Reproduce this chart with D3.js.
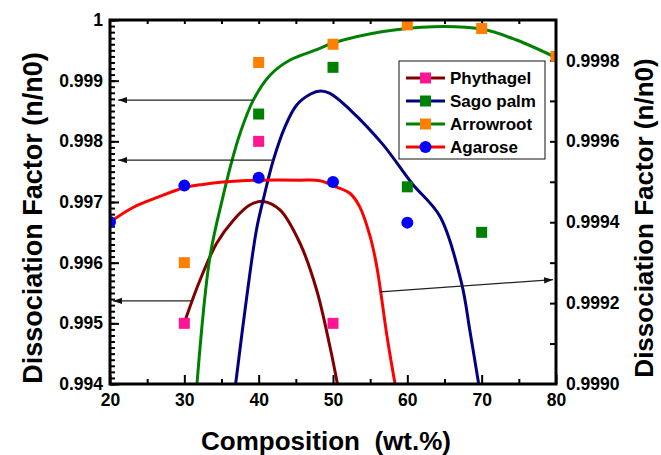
<!DOCTYPE html>
<html>
<head>
<meta charset="utf-8">
<script src="https://cdn.jsdelivr.net/npm/d3@7"></script>
<style>
  html, body { margin: 0; padding: 0; background: #fff; }
  text { font-family: "Liberation Sans", Arial, sans-serif; font-weight: bold; white-space: pre; }
</style>
</head>
<body>
<svg id="chart" width="661" height="455"></svg>
<script>
// ---------- data (left-axis units) ----------
const seriesNames = ["Phythagel", "Sago palm", "Arrowroot", "Agarose"];

// measured points (markers)
const phythagelX = [30, 40, 50];
const phythagelY = [0.995, 0.998, 0.995];
const sagoX = [40, 50, 60, 70];
const sagoY = [0.99845, 0.99922, 0.99725, 0.99650];
const arrowrootX = [30, 40, 50, 60, 70, 80];
const arrowrootY = [0.996, 0.9993, 0.9996, 0.99992, 0.99986, 0.9994];
const agaroseX = [20, 30, 40, 50, 60];
const agaroseY = [0.99667, 0.99727, 0.9974, 0.99733, 0.99666];

// fitted curves
const phythagelCurveX = [30.2, 32.1, 34.35, 36.6, 38.8, 40.6, 42.87, 45.56, 47.8, 49.6, 50.6];
const phythagelCurveY = [0.99508, 0.99571, 0.99632, 0.9967, 0.99695, 0.99701, 0.99687, 0.99632, 0.99555, 0.99461, 0.994];
const sagoCurveX = [36.9, 38.4, 39.7, 40.6, 41.97, 43.54, 45.12, 47.0, 48.3, 49.6, 52.3, 56.7, 60.6, 64.4, 67.3, 68.4, 69.6];
const sagoCurveY = [0.994, 0.99544, 0.99654, 0.99703, 0.99769, 0.99824, 0.9986, 0.99878, 0.99883, 0.99879, 0.99852, 0.99795, 0.99731, 0.99676, 0.99566, 0.99489, 0.994];
const arrowrootCurveX = [31.7, 33.45, 35.2, 36.14, 37.49, 39.28, 41.53, 44.22, 47.8, 50, 56.75, 63.5, 70, 74.7, 80];
const arrowrootCurveY = [0.994, 0.9961, 0.99709, 0.99756, 0.99813, 0.99868, 0.99909, 0.99934, 0.99951, 0.99962, 0.99981, 0.99989, 0.99985, 0.99967, 0.99938];
const agaroseCurveX = [20, 23.1, 26.46, 29.86, 32.5, 35.2, 40.2, 45.56, 48.25, 50.4, 52.3, 53.6, 55, 55.9, 57.3, 58.35];
const agaroseCurveY = [0.99667, 0.99691, 0.99708, 0.99723, 0.99729, 0.99733, 0.99736, 0.99736, 0.99735, 0.99725, 0.99714, 0.99692, 0.99643, 0.99593, 0.99476, 0.994];

// annotation arrows (from curve to axis)
const arrowFromX = [39.2, 42.0, 31.0, 56.33];
const arrowFromY = [0.99868, 0.99769, 0.99537, 0.99552];
const arrowToX   = [21.1, 21.1, 20.4, 79.6];
const arrowToY   = [0.99868, 0.99769, 0.99537, 0.99572];

// ticks
const xMajorTicks = [20, 30, 40, 50, 60, 70, 80];
const yLeftMajorTicks = [0.994, 0.995, 0.996, 0.997, 0.998, 0.999, 1];
const yRightMajorTicks = [0.9990, 0.9992, 0.9994, 0.9996, 0.9998];

// ---------- layout ----------
const svg = d3.select("#chart");
const L = 110, R = 556, T = 20, B = 384;
const x = d3.scaleLinear().domain([20, 80]).range([L, R]);
const y = d3.scaleLinear().domain([0.994, 1]).range([B, T]);
const yR = d3.scaleLinear().domain([0.9990, 0.9999]).range([B, T]);

const lineColors = ["#800000", "#000080", "#008000", "#ff0000"];
const markColors = ["#ff1493", "#008000", "#ff8000", "#0000ff"];

const defs = svg.append("defs");
defs.append("clipPath").attr("id", "clip")
  .append("rect").attr("x", L).attr("y", T).attr("width", R - L).attr("height", B - T);
defs.append("marker").attr("id", "ah")
  .attr("viewBox", "0 -4 9 8").attr("refX", 9).attr("refY", 0)
  .attr("markerWidth", 9).attr("markerHeight", 8).attr("markerUnits", "userSpaceOnUse")
  .attr("orient", "auto")
  .append("path").attr("d", "M0,-3.2L9,0L0,3.2Z").attr("fill", "#111");

// ---------- axes ----------
function styleAxis(g) {
  g.select(".domain").remove();
  g.selectAll(".tick line").attr("stroke", "#000").attr("stroke-width", 2);
  g.selectAll(".tick text").attr("font-size", 17.5).attr("fill", "#000");
}
const fmtLeft = d => (Math.abs(d - 1) < 1e-9 ? "1" : d3.format(".3f")(d));

// left minor
svg.append("g").attr("transform", `translate(${L},0)`)
  .call(d3.axisLeft(y).tickValues(d3.range(0, 61).map(i => 0.994 + i * 0.0001)).tickSize(-5).tickFormat(""))
  .call(styleAxis);
// left major
svg.append("g").attr("transform", `translate(${L},0)`)
  .call(d3.axisLeft(y).tickValues(yLeftMajorTicks).tickSize(-9).tickPadding(7).tickFormat(fmtLeft))
  .call(styleAxis);
// bottom minor
svg.append("g").attr("transform", `translate(0,${B})`)
  .call(d3.axisBottom(x).tickValues(d3.range(25, 80, 10)).tickSize(-5).tickFormat(""))
  .call(styleAxis);
// bottom major
svg.append("g").attr("transform", `translate(0,${B})`)
  .call(d3.axisBottom(x).tickValues(xMajorTicks).tickSize(-9).tickPadding(10).tickFormat(d3.format("d")))
  .call(styleAxis);
// top ticks
svg.append("g").attr("transform", `translate(0,${T})`)
  .call(d3.axisTop(x).tickValues(d3.range(25, 80, 5)).tickSize(-4).tickFormat(""))
  .call(styleAxis);
// right minor
svg.append("g").attr("transform", `translate(${R},0)`)
  .call(d3.axisRight(yR).tickValues(d3.range(1, 9).map(i => 0.999 + i * 0.0001)).tickSize(-6).tickFormat(""))
  .call(styleAxis);
// right labels
svg.append("g").attr("transform", `translate(${R},0)`)
  .call(d3.axisRight(yR).tickValues(yRightMajorTicks).tickSize(0).tickPadding(10).tickFormat(d3.format(".4f")))
  .call(styleAxis);

// ---------- plot ----------
const plot = svg.append("g").attr("clip-path", "url(#clip)");
const lineGen = d3.line().x(d => x(d[0])).y(d => y(d[1])).curve(d3.curveCatmullRom.alpha(0.5));

// arrows
arrowFromX.forEach((fx, i) => {
  svg.append("line")
    .attr("x1", x(fx)).attr("y1", y(arrowFromY[i]))
    .attr("x2", x(arrowToX[i])).attr("y2", y(arrowToY[i]))
    .attr("stroke", "#222").attr("stroke-width", 1.2)
    .attr("marker-end", "url(#ah)");
});

const curves = [
  [phythagelCurveX, phythagelCurveY],
  [sagoCurveX, sagoCurveY],
  [arrowrootCurveX, arrowrootCurveY],
  [agaroseCurveX, agaroseCurveY]
];
curves.forEach((c, i) => {
  plot.append("path")
    .datum(c[0].map((v, j) => [v, c[1][j]]))
    .attr("d", lineGen)
    .attr("fill", "none").attr("stroke", lineColors[i]).attr("stroke-width", 3);
});

const points = [
  [phythagelX, phythagelY, "square"],
  [sagoX, sagoY, "square"],
  [arrowrootX, arrowrootY, "square"],
  [agaroseX, agaroseY, "circle"]
];
const sq = 11;
points.forEach((p, i) => {
  const data = p[0].map((v, j) => [v, p[1][j]]);
  if (p[2] === "square") {
    plot.selectAll(null).data(data).enter().append("rect")
      .attr("x", d => x(d[0]) - sq / 2).attr("y", d => y(d[1]) - sq / 2)
      .attr("width", sq).attr("height", sq).attr("fill", markColors[i]);
  } else {
    plot.selectAll(null).data(data).enter().append("circle")
      .attr("cx", d => x(d[0])).attr("cy", d => y(d[1])).attr("r", 6)
      .attr("fill", markColors[i]);
  }
});

// frame
svg.append("rect").attr("x", L).attr("y", T).attr("width", R - L).attr("height", B - T)
  .attr("fill", "none").attr("stroke", "#000").attr("stroke-width", 3);

// ---------- legend ----------
const lg = svg.append("g");
lg.append("rect").attr("x", 399).attr("y", 61).attr("width", 146).attr("height", 98)
  .attr("fill", "#fff").attr("stroke", "#111").attr("stroke-width", 1);
seriesNames.forEach((name, i) => {
  const cy = 78 + i * 23;
  lg.append("line").attr("x1", 406).attr("x2", 445).attr("y1", cy).attr("y2", cy)
    .attr("stroke", lineColors[i]).attr("stroke-width", 3);
  if (i === 3) {
    lg.append("circle").attr("cx", 425.5).attr("cy", cy).attr("r", 6).attr("fill", markColors[i]);
  } else {
    lg.append("rect").attr("x", 425.5 - sq / 2).attr("y", cy - sq / 2).attr("width", sq).attr("height", sq)
      .attr("fill", markColors[i]);
  }
  lg.append("text").attr("x", 450).attr("y", cy).attr("dy", "0.35em")
    .attr("font-size", 17).text(name);
});

// ---------- titles ----------
svg.append("text").attr("x", 326).attr("y", 450).attr("text-anchor", "middle")
  .attr("font-size", 26).text("Composition  (wt.%)");
svg.append("text").attr("transform", `translate(42,218) rotate(-90)`).attr("text-anchor", "middle")
  .attr("font-size", 27).text("Dissociation Factor (n/n0)");
svg.append("text").attr("transform", `translate(653,218) rotate(-90)`).attr("text-anchor", "middle")
  .attr("font-size", 26).text("Dissociation Factor (n/n0)");
</script>
</body>
</html>
